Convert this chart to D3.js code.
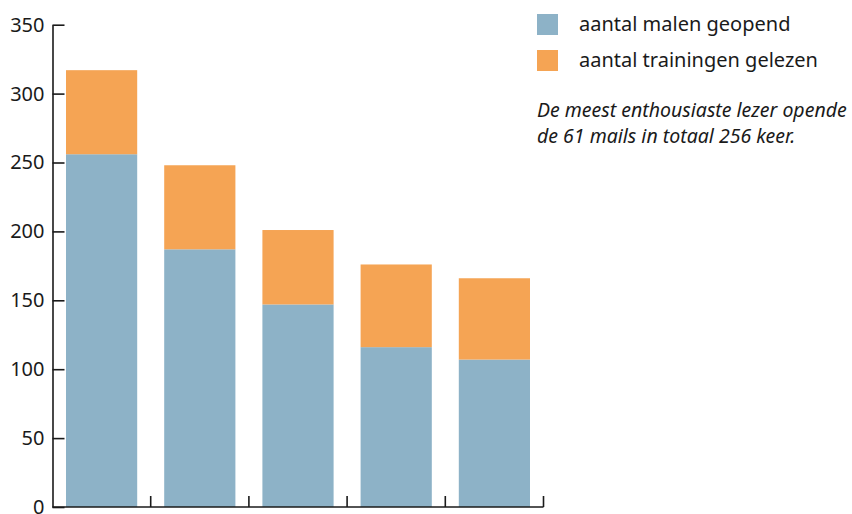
<!DOCTYPE html>
<html>
<head>
<meta charset="utf-8">
<script src="https://cdn.jsdelivr.net/npm/d3@7"></script>
<style>
  html, body { margin: 0; padding: 0; background: #fff; }
  svg { display: block; font-family: "Noto Sans", sans-serif; }
</style>
</head>
<body>
<svg id="chart" width="852" height="514"></svg>
<script>
// Data
const categories = ["1", "2", "3", "4", "5"];
const geopend = [256, 187, 147, 116, 107];
const gelezen = [61, 61, 54, 60, 59];
const seriesNames = ["aantal malen geopend", "aantal trainingen gelezen"];
const seriesColors = ["#8db2c7", "#f5a454"];
const yTicks = [0, 50, 100, 150, 200, 250, 300, 350];
const noteLines = ["De meest enthousiaste lezer opende", "de 61 mails in totaal 256 keer."];

const svg = d3.select("#chart");
const axisColor = "#1a1a1a";

const x = d3.scaleBand().domain(categories).range([52.5, 543.5]).padding(0);
const y = d3.scaleLinear().domain([0, 350]).range([507, 24.7]);
const barW = x.bandwidth() * 0.725;
const barOff = (x.bandwidth() - barW) / 2;

const rows = categories.map((c, i) => ({ cat: c, geopend: geopend[i], gelezen: gelezen[i] }));
const stack = d3.stack().keys(["geopend", "gelezen"])(rows);

svg.append("g").selectAll("g")
  .data(stack).join("g")
  .attr("fill", (d, i) => seriesColors[i])
  .selectAll("rect")
  .data(d => d).join("rect")
  .attr("x", d => x(d.data.cat) + barOff)
  .attr("width", barW)
  .attr("y", d => y(d[1]))
  .attr("height", d => y(d[0]) - y(d[1]));

// Y axis
const yAxis = svg.append("g")
  .attr("transform", `translate(${x.range()[0]},0)`)
  .call(d3.axisLeft(y).tickValues(yTicks).tickSizeInner(-12).tickSizeOuter(0).tickPadding(8));
yAxis.select(".domain").attr("stroke", axisColor).attr("stroke-width", 1.6);
yAxis.selectAll(".tick line").attr("stroke", axisColor).attr("stroke-width", 1.6);
yAxis.selectAll(".tick text")
  .attr("fill", "#1a1a1a")
  .style("font-size", "20px")
  .style("font-family", "'Noto Sans', sans-serif");

// X axis (ticks at band boundaries, no labels)
const xAxis = svg.append("g").attr("transform", `translate(0,${y(0)})`);
xAxis.append("line")
  .attr("x1", x.range()[0]).attr("x2", x.range()[1])
  .attr("stroke", axisColor).attr("stroke-width", 1.6);
xAxis.selectAll("line.tick")
  .data(categories).join("line")
  .attr("class", "tick")
  .attr("x1", d => x(d) + x.bandwidth()).attr("x2", d => x(d) + x.bandwidth())
  .attr("y1", 0).attr("y2", -11)
  .attr("stroke", axisColor).attr("stroke-width", 1.6);

// Legend
const legend = svg.append("g");
seriesNames.forEach((name, i) => {
  const ly = 14 + i * 36;
  legend.append("rect")
    .attr("x", 537).attr("y", ly).attr("width", 21).attr("height", 21)
    .attr("fill", seriesColors[i]);
  legend.append("text")
    .attr("x", 579).attr("y", ly + 16.5)
    .attr("fill", "#1a1a1a")
    .style("font-size", "20px")
    .text(name);
});

// Note
svg.append("g").selectAll("text")
  .data(noteLines).join("text")
  .attr("x", 537)
  .attr("y", (d, i) => 116.7 + i * 26.7)
  .attr("fill", "#1a1a1a")
  .style("font-size", "19.5px")
  .style("font-style", "italic")
  .text(d => d);
</script>
</body>
</html>
